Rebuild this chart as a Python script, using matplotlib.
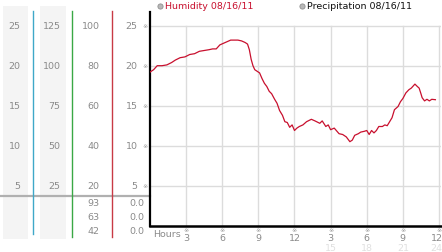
import matplotlib
matplotlib.use("Agg")
import matplotlib.pyplot as plt

# ---------------- data ----------------
hours = [0.0, 0.3, 0.6, 1.0, 1.4, 1.8, 2.1, 2.5, 2.9, 3.3, 3.7, 4.1, 4.5, 4.9, 5.2, 5.5,
         5.8, 6.1, 6.4, 6.7, 7.0, 7.3, 7.6, 7.9, 8.1, 8.25, 8.4, 8.55, 8.7, 8.9, 9.1, 9.3,
         9.5, 9.7, 9.9, 10.1, 10.35, 10.55, 10.76, 11.0, 11.2, 11.4, 11.6, 11.8, 12.0, 12.2,
         12.4, 12.7, 13.0, 13.4, 13.7, 14.1, 14.3, 14.6, 14.8, 15.0, 15.3, 15.7, 16.0, 16.3,
         16.6, 16.8, 17.0, 17.3, 17.5, 17.8, 18.0, 18.2, 18.4, 18.6, 18.8, 19.0, 19.3, 19.5,
         19.7, 19.9, 20.1, 20.3, 20.6, 20.8, 21.0, 21.25, 21.5, 21.7, 22.0, 22.2, 22.35, 22.5,
         22.6, 22.8, 23.0, 23.2, 23.4, 23.7]
humidity = [19.2, 19.5, 20.0, 20.0, 20.1, 20.4, 20.7, 21.0, 21.1, 21.4, 21.5, 21.8, 21.9, 22.0, 22.1, 22.1,
            22.6, 22.8, 23.0, 23.2, 23.2, 23.2, 23.1, 22.9, 22.7, 22.0, 20.8, 20.0, 19.5, 19.3, 19.1, 18.4,
            17.8, 17.4, 16.8, 16.5, 15.8, 15.3, 14.4, 13.8, 13.0, 12.9, 12.3, 12.6, 11.9, 12.2,
            12.4, 12.6, 13.0, 13.3, 13.1, 12.8, 13.1, 12.4, 12.6, 12.0, 12.2, 11.5, 11.4, 11.1,
            10.5, 10.7, 11.3, 11.5, 11.7, 11.8, 11.9, 11.4, 11.9, 11.6, 11.9, 12.4, 12.4, 12.6,
            12.5, 13.0, 13.5, 14.5, 14.9, 15.5, 15.9, 16.6, 17.0, 17.2, 17.7, 17.4, 17.2, 16.5,
            16.0, 15.6, 15.8, 15.6, 15.8, 15.75]

x_ticks = [3, 6, 9, 12, 15, 18, 21, 24]
x_labels = ["3", "6", "9", "12", "3", "6", "9", "12"]
x_labels_24h = ["15", "18", "21", "24"]
y_ticks = [5, 10, 15, 20, 25]
col1_labels = ["5", "10", "15", "20", "25"]
col2_labels = ["25", "50", "75", "100", "125"]
col3_labels = ["20", "40", "60", "80", "100"]
col4_labels = ["5", "10", "15", "20", "25"]
col3_extra = ["93", "63", "42"]
col4_extra = ["0.0", "0.0", "0.0"]
legend_labels = ["Humidity 08/16/11", "Precipitation 08/16/11"]

# ---------------- figure ----------------
W, H = 442, 253
fig = plt.figure(figsize=(W / 100, H / 100), dpi=100)
fig.patch.set_facecolor("white")

# overlay in pixel coords
ov = fig.add_axes([0, 0, 1, 1])
ov.set_xlim(0, W)
ov.set_ylim(H, 0)
ov.axis("off")

grey_txt = "#8a8a8a"
fs = 6.8

# column backgrounds
for x0, x1 in [(3, 28), (40, 66)]:
    ov.add_patch(plt.Rectangle((x0, 7), x1 - x0, 233, color="#f4f4f4", lw=0, zorder=0))
# coloured vertical lines
ov.plot([33.3, 33.3], [12, 235], color="#3fa8c8", lw=1.0, zorder=2)
ov.plot([72.3, 72.3], [12, 238], color="#3aa845", lw=1.0, zorder=2)
ov.plot([111.7, 111.7], [12, 238], color="#c83a45", lw=1.0, zorder=2)
# grey horizontal line
ov.plot([0, 150], [197, 197], color="#b0b0b0", lw=1.6, zorder=1)

# main axes geometry (pixels)
ax_left, ax_right, ax_top, ax_bot = 150, 440.5, 13, 226.7
px_per_unit = 8.0
ymax = (ax_bot - ax_top) / px_per_unit


def ypix(v):
    return ax_bot - v * px_per_unit


for v, l1, l2, l3, l4 in zip(y_ticks, col1_labels, col2_labels, col3_labels, col4_labels):
    yp = ypix(v)
    ov.text(20.5, yp, l1, ha="right", va="center", fontsize=fs, color=grey_txt)
    ov.text(60.5, yp, l2, ha="right", va="center", fontsize=fs, color=grey_txt)
    ov.text(99.5, yp, l3, ha="right", va="center", fontsize=fs, color=grey_txt)
    ov.text(137.5, yp, l4, ha="right", va="center", fontsize=fs, color=grey_txt)
    ov.text(145.5, yp, "※", ha="center", va="center", fontsize=4.5, color="#999999")

for yp, a, b in zip([204, 218, 232], col3_extra, col4_extra):
    ov.text(100, yp, a, ha="right", va="center", fontsize=fs, color=grey_txt)
    ov.text(144, yp, b, ha="right", va="center", fontsize=fs, color=grey_txt)

# legend
ov.scatter([160], [6.5], s=14, color="#b8b8b8", edgecolor="#909090", lw=0.6, zorder=3)
ov.text(165, 6.5, legend_labels[0], ha="left", va="center", fontsize=fs, color="#c8102e")
ov.scatter([302], [6.5], s=14, color="#b8b8b8", edgecolor="#909090", lw=0.6, zorder=3)
ov.text(307, 6.5, legend_labels[1], ha="left", va="center", fontsize=fs, color="#111111")

# main plot
ax = fig.add_axes([ax_left / W, 1 - ax_bot / H, (ax_right - ax_left) / W, (ax_bot - ax_top) / H])
ax.patch.set_alpha(0)
xmax = 24 + (ax_right - 439) / 12.04
ax.set_xlim(0, xmax)
ax.set_ylim(0, ymax)
for v in y_ticks:
    ax.axhline(v, color="#dcdcdc", lw=1.0, zorder=0)
for t in x_ticks:
    ax.plot([t, t], [0, 25], color="#dcdcdc", lw=1.0, zorder=0)
ax.plot(hours, humidity, color="#c8102e", lw=0.9, zorder=3)

for s in ["top", "right"]:
    ax.spines[s].set_visible(False)
ax.spines["left"].set_linewidth(1.6)
ax.spines["bottom"].set_linewidth(1.8)
ax.spines["left"].set_color("black")
ax.spines["bottom"].set_color("black")
ax.set_xticks([])
ax.set_yticks([])


def xpix(h):
    return ax_left + h * (ax_right - ax_left) / xmax


ov.text(153, 235, "Hours", ha="left", va="center", fontsize=fs, color=grey_txt)
for t, lab in zip(x_ticks, x_labels):
    xp = min(xpix(t), 436.5)
    ov.text(xpix(t), 231, "※", ha="center", va="center", fontsize=4.5, color="#999999")
    ov.text(xp, 238.5, lab, ha="center", va="center", fontsize=fs, color=grey_txt)
for t, lab in zip(x_ticks[4:], x_labels_24h):
    ov.text(min(xpix(t), 436.5), 248.5, lab, ha="center", va="center", fontsize=fs, color="#e0e0e0")

fig.savefig("out.png", dpi=100, facecolor="white")
